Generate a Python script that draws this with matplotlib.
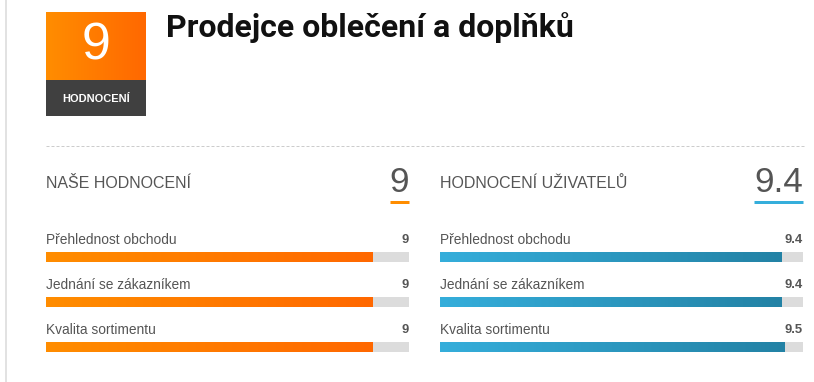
import numpy as np
import matplotlib
matplotlib.use('Agg')
import matplotlib.pyplot as plt
from matplotlib.patches import Rectangle

# data
title = 'Prodejce oblečení a doplňků'
badge_score = 9
badge_label = 'HODNOCENÍ'

categories = ['Přehlednost obchodu', 'Jednání se zákazníkem', 'Kvalita sortimentu']

our_title = 'NAŠE HODNOCENÍ'
our_total = '9'
our_values = [9, 9, 9]
our_labels = ['9', '9', '9']

user_title = 'HODNOCENÍ UŽIVATELŮ'
user_total = '9.4'
user_values = [9.4, 9.4, 9.5]
user_labels = ['9.4', '9.4', '9.5']

max_score = 10

W, H, DPI = 814, 382, 100
text_gray = '#555555'
track_gray = '#dcdcdc'
orange = ('#ff8d00', '#ff6800')
blue = ('#35aedb', '#2382a5')

plt.rcParams['font.family'] = ['Liberation Sans', 'DejaVu Sans']


def px(v):
    # pixel size -> points
    return v * 72 / DPI


def gradient_fill(ax, patch, colors):
    cmap = matplotlib.colors.LinearSegmentedColormap.from_list('g', colors)
    x0, y0 = patch.get_x(), patch.get_y()
    x1, y1 = x0 + patch.get_width(), y0 + patch.get_height()
    grad = np.linspace(0, 1, 256).reshape(1, -1)
    im = ax.imshow(grad, cmap=cmap, extent=(x0, x1, y1, y0), aspect='auto',
                   interpolation='bilinear', zorder=patch.get_zorder() + 0.1)
    im.set_clip_path(patch)


fig = plt.figure(figsize=(W / DPI, H / DPI), dpi=DPI)
bg = fig.add_axes([0, 0, 1, 1])
bg.set_xlim(0, W)
bg.set_ylim(H, 0)
bg.axis('off')

# left page border
bg.plot([6, 6], [0, H], color='#e2e2e2', lw=px(2))

# badge
top = Rectangle((46, 12), 100, 68, lw=0, facecolor='none')
bg.add_patch(top)
gradient_fill(bg, top, orange)
bg.add_patch(Rectangle((46, 80), 100, 36, lw=0, facecolor='#404040'))
bg.text(96, 46, str(badge_score), color='white', fontsize=px(52),
        ha='center', va='center')
bg.text(96, 99, badge_label, color='white', fontsize=px(11), fontweight='bold',
        ha='center', va='center')

# title
bg.text(166, 28, title, fontsize=px(32), fontweight='bold', family=['Roboto', 'DejaVu Sans'],
        color='#111111', ha='left', va='center')

# dashed separator
bg.plot([46, 804], [146, 146], color='#cccccc', lw=px(1), dashes=(3, 2))


def panel(x0, x1, heading, total, values, labels, colors):
    bg.text(x0, 183, heading, fontsize=px(16), color=text_gray, ha='left', va='center')
    t = bg.text(x1, 182, total, fontsize=px(35), color=text_gray, ha='right', va='center')
    fig.canvas.draw()
    bb = t.get_window_extent().transformed(bg.transData.inverted())
    bg.plot([min(bb.x0, bb.x1), x1], [202, 202], color=colors[0], lw=px(3),
            solid_capstyle='butt')

    ax = fig.add_axes([x0 / W, 1 - 360 / H, (x1 - x0) / W, 130 / H])
    ax.set_xlim(0, max_score)
    ax.set_ylim(2 + 13 / 45, -27 / 45)
    ax.axis('off')
    rows = np.arange(len(values))
    bh = 10 / 45
    ax.barh(rows, [max_score] * len(values), height=bh, color=track_gray, lw=0)
    bars = ax.barh(rows, values, height=bh, color='none', lw=0)
    for b in bars:
        gradient_fill(ax, b, colors)
    for i, (cat, lab) in enumerate(zip(categories, labels)):
        ax.text(0, i - 17 / 45, cat, fontsize=px(13.7), color=text_gray,
                ha='left', va='center')
        ax.text(max_score, i - 17 / 45, lab, fontsize=px(13), color=text_gray,
                fontweight='bold', ha='right', va='center')


panel(46, 409, our_title, our_total, our_values, our_labels, orange)
panel(440, 803, user_title, user_total, user_values, user_labels, blue)

fig.savefig('out.png', dpi=DPI)
